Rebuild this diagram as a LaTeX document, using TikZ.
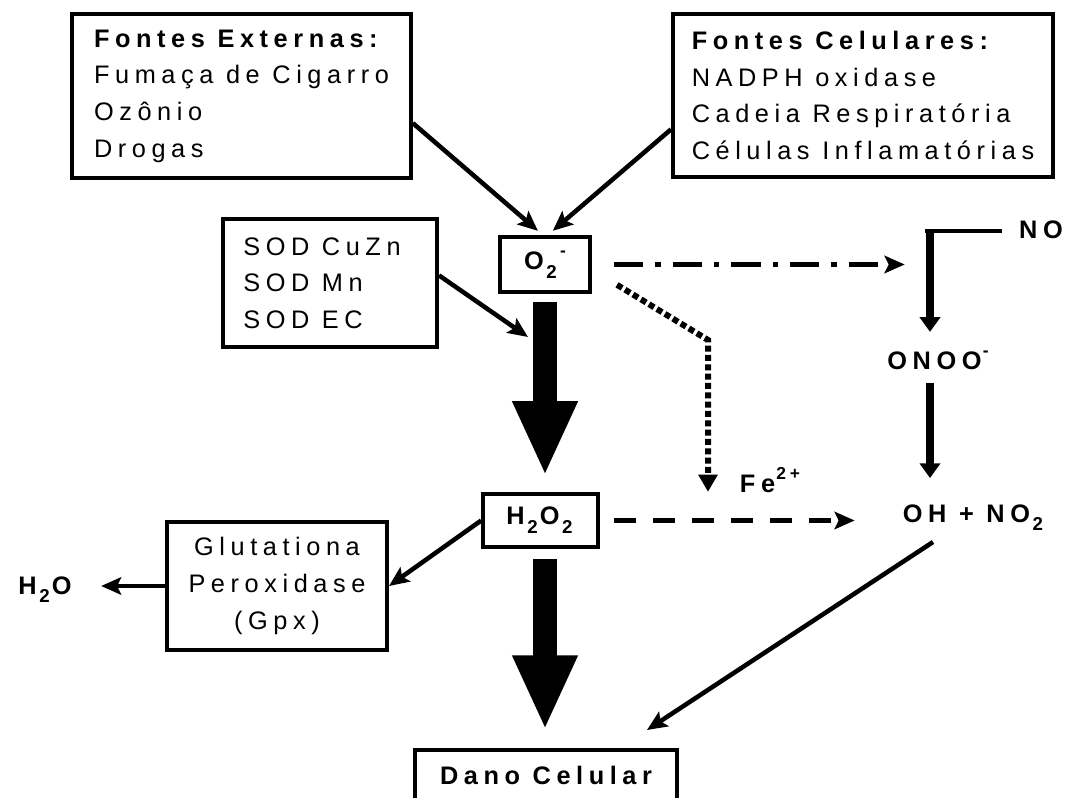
\documentclass[tikz,border=0pt]{standalone}
\usepackage{fontspec}
\setmainfont{Liberation Sans}[LetterSpace=22]
\usepackage{tikz}
\usetikzlibrary{positioning,calc,arrows.meta}
\newcommand{\boxfont}{\fontsize{19}{27.5}\selectfont}
\newcommand{\chdn}[1]{\kern2pt\raisebox{-0.35em}{\fontsize{14}{14}\selectfont #1}\kern1.5pt}
\newcommand{\chup}[1]{\kern1pt\raisebox{0.5em}{\fontsize{13}{13}\selectfont #1}}
\tikzset{
  box/.style      = {draw, line width=3pt, inner sep=0pt, align=left, font=\boxfont},
  bold/.style     = {font=\boxfont\bfseries},
  chem/.style     = {inner sep=0pt, anchor=base, font=\boxfont\bfseries},
  link/.style     = {line width=3.4pt, -{Stealth[length=15pt,width=13pt,inset=3pt]}},
  bigarrow/.style = {line width=18pt, -{Triangle[length=56pt,width=45pt]}},
  stem/.style     = {line width=6.5pt, -{Triangle[length=11pt,width=15pt]}},
  dashlink/.style = {link, dash pattern=on 16.5pt off 12.75pt},
  dotlink/.style  = {line width=4.5pt, dash pattern=on 4.5pt off 2.5pt,
                     -{Triangle[length=13pt,width=14pt]}},
  dotdash/.style  = {link, dash pattern=on 22pt off 9pt on 4pt off 9pt}
}

\begin{document}
\begin{tikzpicture}[x=0.75pt,y=-0.75pt]
  \useasboundingbox (0,0) rectangle (1070,798);

  % sources
  \node[box, minimum width=254pt, minimum height=123pt] (ext) at (241.5,96)
    {\textbf{Fontes Externas:}\\Fumaça de Cigarro\hspace*{16pt}\\Ozônio\\Drogas};
  \node[box, minimum width=285pt, minimum height=122pt] (cel) at (863,95.5)
    {\textbf{Fontes Celulares:}\\NADPH oxidase\\Cadeia Respiratória\\Células Inflamatórias};

  % enzymes
  \node[box, minimum width=160.5pt, minimum height=96pt] (sod) at (330,283)
    {SOD CuZn\hspace*{12pt}\\SOD Mn\\SOD EC};
  \node[box, minimum width=165pt, minimum height=96pt, align=center] (gpx) at (277,586)
    {Glutationa\\Peroxidase\\(Gpx)};

  % species
  \node[box, bold, minimum width=67.5pt, minimum height=41pt] (o2) at (545,264.5) {O\chdn{2}\chup{-}};
  \node[box, bold, minimum width=86pt, minimum height=40pt] (h2o2) at (540.5,520.5) {H\chdn{2}O\chdn{2}};
  \node[box, bold, minimum width=196.5pt, minimum height=37.5pt] (dano) at (546,775) {Dano Celular};
  \node[chem] (no)   at (1041,239) {NO};
  \node[chem] (onoo) at (938,369)  {ONOO\chup{-}};
  \node[chem] (oh)   at (974,522)  {OH + NO\chdn{2}};
  \node[chem] (h2o)  at (45,594)   {H\chdn{2}O};
  \node[chem] (fe)   at (770,492)  {Fe\chup{2+}};

  \coordinate (nojoin)   at (930,231);
  \coordinate (fecorner) at (708,340);
  \coordinate (sodtip)   at (528,337);
  \coordinate (ohfoot)   at (933,542);

  % into O2-
  \draw[link, shorten >=5pt] (ext.-9) -- ([xshift=-1.5pt]o2.north);
  \draw[link, shorten >=5pt] (cel.190) -- ([xshift=2pt]o2.north);
  \draw[link] (sod.4) -- (sodtip);

  % main chain
  \draw[bigarrow, shorten <=6pt, shorten >=12pt] (o2.south) -- (o2.south |- h2o2.north);
  \draw[bigarrow, shorten <=7.5pt, shorten >=13.5pt] (o2.south |- h2o2.south) -- (o2.south |- dano.north);

  % side reactions
  \draw[link] (h2o2.west) -- (gpx.east);
  \draw[link, shorten >=22pt] (gpx.west) -- (h2o.east |- gpx.west);
  \draw[dashlink, shorten <=10.5pt, shorten >=36pt] (h2o2.east) -- (h2o2.east -| oh.west);
  \draw[dotdash, shorten <=16.5pt, shorten >=19pt] (o2.east) -- (o2.east -| nojoin);
  \draw[dotlink] ([shift={(25,-9)}]o2.south east) -- (fecorner) -- (fecorner |- h2o2.north);

  % peroxynitrite
  \draw[line width=2.3pt, shorten <=13pt] (no.west |- nojoin) -- ([xshift=-3.5pt]nojoin);
  \draw[stem, shorten <=-1.5pt, shorten >=14pt] (nojoin) -- (nojoin |- onoo.north);
  \draw[stem, shorten <=10pt, shorten >=19.5pt] (nojoin |- onoo.south) -- (nojoin |- oh.north);
  \draw[link] (ohfoot) -- ([shift={(101,-18)}]dano.north);
\end{tikzpicture}
\end{document}
